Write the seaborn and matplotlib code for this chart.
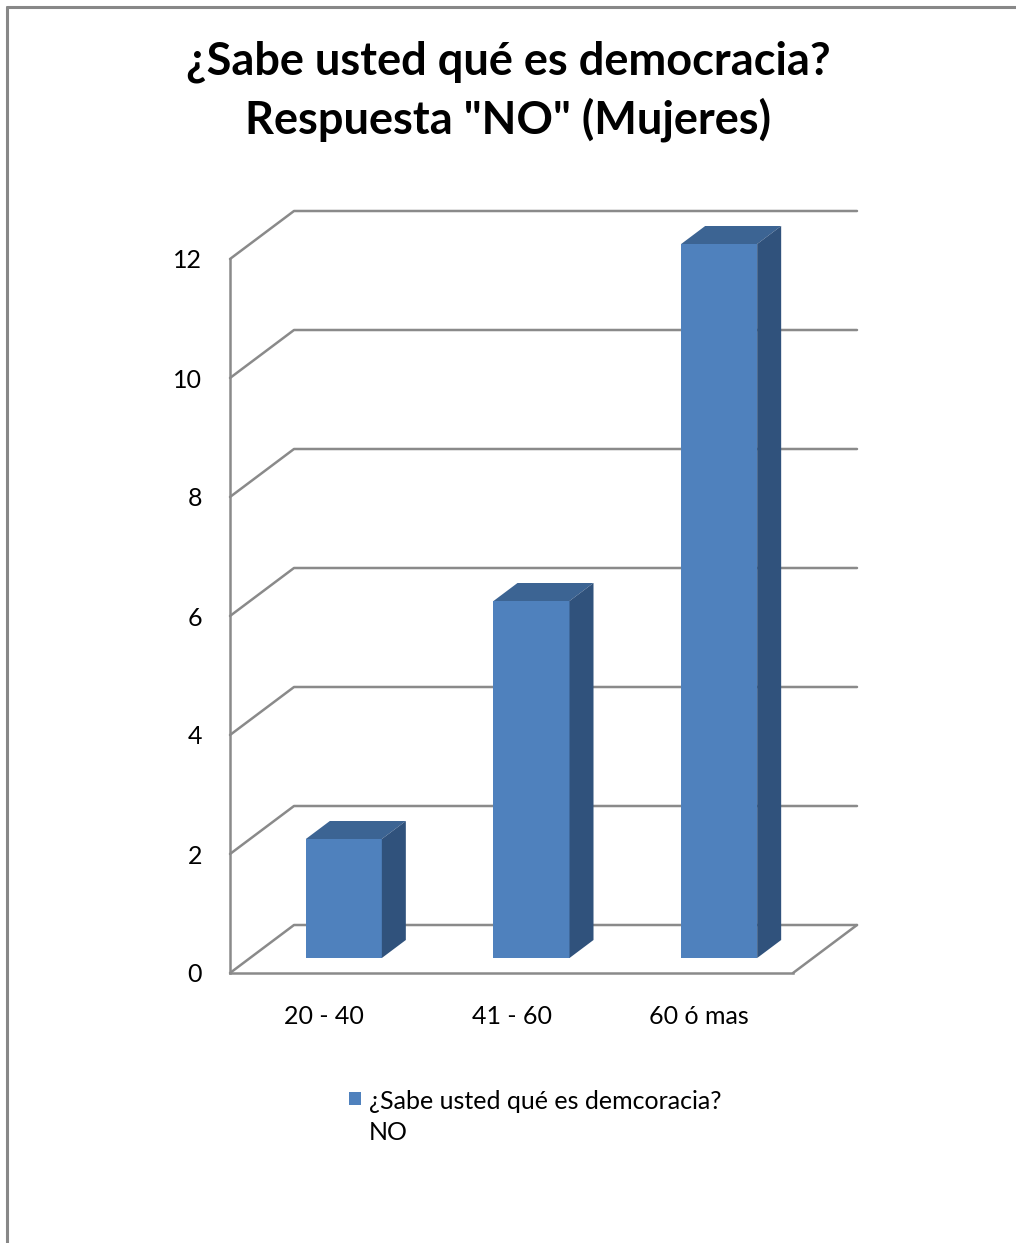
import matplotlib
matplotlib.use("Agg")
import matplotlib.pyplot as plt
from matplotlib.patches import Polygon, Rectangle
from matplotlib.lines import Line2D
import seaborn as sns
import pandas as pd

# Survey data: women answering "NO" by age group
categories = ["20 - 40", "41 - 60", "60 ó mas"]
values = [2, 6, 12]
yticks = [0, 2, 4, 6, 8, 10, 12]
title_lines = ["¿Sabe usted qué es democracia?", 'Respuesta "NO" (Mujeres)']
series_label = "¿Sabe usted qué es demcoracia?\nNO"

df = pd.DataFrame({"grupo": categories, "valor": values})

FRONT = "#4F81BD"
TOP = "#3C6493"
SIDE = "#30527C"
GRID = "#8A8A8A"

sns.set_theme(style="white")
plt.rcParams["font.family"] = ["Lato", "DejaVu Sans"]

W, H = 1016, 1243
fig = plt.figure(figsize=(W / 100, H / 100), dpi=100)

# axes frame in pixels: front plane x 230..793, y 973 (0) .. 259 (12)
left_px, right_px, bot_px, top_px = 230, 793, 973, 259
ax = fig.add_axes([left_px / W, 1 - bot_px / H,
                   (right_px - left_px) / W, (bot_px - top_px) / H])

xmin, xmax = -0.5, len(categories) - 0.5
ymax = 12
ax.set_xlim(xmin, xmax)
ax.set_ylim(0, ymax)

px_per_x = (right_px - left_px) / (xmax - xmin)
px_per_y = (bot_px - top_px) / ymax
# depth vector of the 3D box (back wall offset)
DX = 64 / px_per_x
DY = 48 / px_per_y

# back wall and floor gridlines
for v in yticks:
    ax.add_line(Line2D([xmin, xmin + DX, xmax + DX], [v, v + DY, v + DY],
                       color=GRID, lw=1.8, clip_on=False, zorder=1))
ax.add_line(Line2D([xmax, xmax + DX], [0, DY], color=GRID, lw=1.8,
                   clip_on=False, zorder=1))

# front faces through seaborn, then pushed back to the middle depth
sns.barplot(data=df, x="grupo", y="valor", color=FRONT, width=0.405,
            saturation=1, ax=ax, zorder=3, edgecolor="none")

zf, zb = 20 / 64, 44 / 64
for bar in list(ax.patches):
    if not isinstance(bar, Rectangle):
        continue
    x0 = bar.get_x()
    w = bar.get_width()
    h = bar.get_height()
    x1 = x0 + w
    fx, fy = zf * DX, zf * DY
    bx, by = zb * DX, zb * DY
    bar.set_x(x0 + fx)
    bar.set_y(fy)
    bar.set_clip_on(False)
    top = Polygon([(x0 + fx, h + fy), (x1 + fx, h + fy),
                   (x1 + bx, h + by), (x0 + bx, h + by)],
                  closed=True, facecolor=TOP, edgecolor="none",
                  clip_on=False, zorder=3)
    side = Polygon([(x1 + fx, fy), (x1 + fx, h + fy),
                    (x1 + bx, h + by), (x1 + bx, by)],
                   closed=True, facecolor=SIDE, edgecolor="none",
                   clip_on=False, zorder=3)
    ax.add_patch(top)
    ax.add_patch(side)

# axes styling
for s in ["top", "right"]:
    ax.spines[s].set_visible(False)
for s in ["left", "bottom"]:
    ax.spines[s].set_color(GRID)
    ax.spines[s].set_linewidth(1.8)
    ax.spines[s].set_zorder(2)

ax.set_yticks(yticks)
ax.set_yticklabels([str(v) for v in yticks])
ax.tick_params(axis="y", length=7, width=1.8, color=GRID, labelsize=18,
               labelcolor="black", pad=13, direction="out")
ax.set_xticks(range(len(categories)))
ax.set_xticklabels(categories)
ax.set_xticks([i - 0.5 for i in range(len(categories) + 1)], minor=True)
ax.tick_params(axis="x", which="major", length=0, labelsize=18,
               labelcolor="black", pad=23)
ax.tick_params(axis="x", which="minor", length=10, width=1.8, color=GRID,
               direction="out")
ax.set_xlabel("")
ax.set_ylabel("")
ax.grid(False)
ax.set_facecolor("none")

# title, two lines
for line, ypx in zip(title_lines, [62, 120]):
    fig.text(0.5, 1 - ypx / H, line, ha="center", va="center",
             fontsize=32.5, fontweight="bold", color="black")

# legend: colour key plus two-line series name
fig.add_artist(Rectangle((349 / W, 1 - 1105 / H), 12 / W, 13 / H,
                         facecolor=FRONT, edgecolor="none",
                         transform=fig.transFigure))
fig.text(369 / W, 1 - 1117 / H, series_label, ha="left", va="center",
         fontsize=18, linespacing=1.4, color="black",
         transform=fig.transFigure)

# outer chart border (top and left edges)
fig.add_artist(Line2D([7 / W, 1], [1 - 7 / H, 1 - 7 / H], color="#888888",
                      lw=2.2, transform=fig.transFigure))
fig.add_artist(Line2D([7 / W, 7 / W], [0, 1 - 7 / H], color="#888888",
                      lw=2.2, transform=fig.transFigure))

fig.savefig("out.png", dpi=100, facecolor="white")
